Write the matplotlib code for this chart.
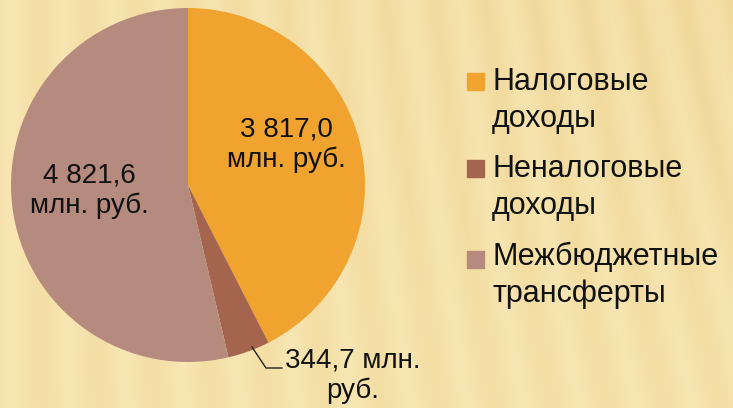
import matplotlib
matplotlib.use("Agg")
import matplotlib.pyplot as plt
from matplotlib.patches import Rectangle
import numpy as np

plt.rcParams['font.family'] = ['Liberation Sans', 'DejaVu Sans']

# data
categories = ["Налоговые\nдоходы", "Неналоговые\nдоходы", "Межбюджетные\nтрансферты"]
values = [3817.0, 344.7, 4821.6]
value_labels = ["3 817,0\nмлн. руб.", "344,7 млн.\nруб.", "4 821,6\nмлн. руб."]
colors = ["#F0A32F", "#A5644E", "#B58A7F"]

W, H = 733, 408
fig = plt.figure(figsize=(W / 100, H / 100), dpi=100)

# textured background (cream gradient with soft diagonal stripes)
bg = fig.add_axes([0, 0, 1, 1])
yy, xx = np.mgrid[0:H, 0:W]
base = 1.0 - 0.35 * (xx / W) * (1 - yy / H)
stripes = 0.5 + 0.5 * np.sin((xx + 0.25 * (xx / W) * (H - yy)) / 9.0)
t = np.clip(0.55 * base + 0.25 * stripes, 0, 1)
light = np.array([250, 236, 190]) / 255
dark = np.array([236, 206, 135]) / 255
img = dark[None, None, :] * (1 - t[..., None]) + light[None, None, :] * t[..., None]
bg.imshow(img, aspect='auto', extent=(0, W, H, 0))
bg.set_axis_off()

# pie: centre (188,185) px, radius 177 px
cx, cy, r = 188, 185, 177
ax = fig.add_axes([(cx - r) / W, (H - cy - r) / H, 2 * r / W, 2 * r / H])
ax.pie(values, colors=colors, startangle=90, counterclock=False,
       wedgeprops=dict(linewidth=0))
ax.set_xlim(-1, 1)
ax.set_ylim(-1, 1)
ax.set_aspect('auto')
ax.set_axis_off()

def px(x, y):
    return (x - cx) / r, (cy - y) / r

label_pos = [(286, 145), (353, 376), (89, 191)]
for lbl, (x, y) in zip(value_labels, label_pos):
    ax.text(*px(x, y), lbl, ha='center', va='center', fontsize=20,
            linespacing=1.2, color='#111111', clip_on=False)

# leader line for the small slice
lx, ly = zip(px(252, 347), px(266, 368), px(282, 368))
ax.plot(lx, ly, color='#222222', lw=1, clip_on=False)

# legend
sq = 17
square_top = [73, 160, 251]
baseline = [90, 177, 265]
for lbl, col, top, base_y in zip(categories, colors, square_top, baseline):
    fig.patches.append(Rectangle((467 / W, (H - top - sq) / H), sq / W, sq / H,
                                 transform=fig.transFigure, color=col))
    for k, line in enumerate(lbl.split("\n")):
        fig.text(492 / W, (H - (base_y + 37 * k)) / H, line, fontsize=22,
                 va='baseline', ha='left', color='#111111')

fig.savefig("out.png", dpi=100)
